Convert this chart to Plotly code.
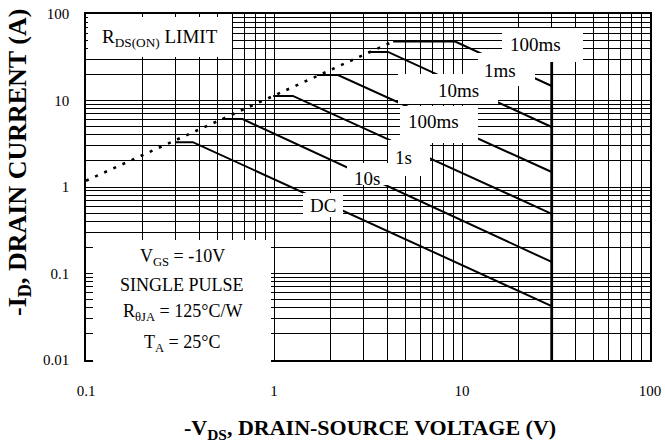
import plotly.graph_objects as go

# ---------------- data ----------------
x_major = [0.1, 1, 10, 100]
x_major_text = ["0.1", "1", "10", "100"]
y_major = [0.01, 0.1, 1, 10, 100]
y_major_text = ["0.01", "0.1", "1", "10", "100"]
x_minor = [0.2, 0.3, 0.4, 0.5, 0.6, 0.7, 0.8, 0.9,
           2, 3, 4, 5, 6, 7, 8, 9,
           20, 30, 40, 50, 60, 70, 80, 90]
y_minor = [0.02, 0.03, 0.04, 0.05, 0.06, 0.07, 0.08, 0.09,
           0.2, 0.3, 0.4, 0.5, 0.6, 0.7, 0.8, 0.9,
           2, 3, 4, 5, 6, 7, 8, 9,
           20, 30, 40, 50, 60, 70, 80, 90]

rds_v = [0.1, 4.3]
rds_i = [1.18, 48]
dc_v = [0.30, 0.37, 30]
dc_i = [3.3, 3.3, 0.042]
s10_v = [0.53, 0.68, 30]
s10_i = [6.1, 6.1, 0.136]
s1_v = [0.99, 1.26, 30]
s1_i = [11.3, 11.3, 0.49]
ms100_v = [1.69, 2.19, 30]
ms100_i = [19.7, 19.7, 1.49]
ms10_v = [3.16, 4.04, 30]
ms10_i = [36.4, 36.4, 4.94]
ms1_v = [4.3, 9.2, 30]
ms1_i = [48, 48, 14.7]
vmax_v = [30, 30]
vmax_i = [0.01, 48]

curve_labels = ["100ms", "1ms", "10ms", "100ms", "1s", "10s", "DC"]
cond_lines = ["V<sub>GS</sub> = -10V", "SINGLE PULSE",
              "R<sub>θJA</sub> = 125°C/W", "T<sub>A</sub> = 25°C"]

# ---------------- layout helpers (pixel -> paper) ----------------
W, H = 665, 443
L, R, T, B = 86, 15, 14, 83
PW, PH = W - L - R, H - T - B


def px(x):
    return (x - L) / PW


def py(y):
    return (H - B - y) / PH


SERIF = "Liberation Serif, Times New Roman, serif"

fig = go.Figure()

line_style = dict(color="black", width=2)
for v, i in [(dc_v, dc_i), (s10_v, s10_i), (s1_v, s1_i), (ms100_v, ms100_i),
             (ms10_v, ms10_i), (ms1_v, ms1_i)]:
    fig.add_trace(go.Scatter(x=v, y=i, mode="lines", line=line_style,
                             showlegend=False, hoverinfo="skip"))
fig.add_trace(go.Scatter(x=vmax_v, y=vmax_i, mode="lines",
                         line=dict(color="black", width=2.8),
                         showlegend=False, hoverinfo="skip"))
fig.add_trace(go.Scatter(x=rds_v, y=rds_i, mode="lines",
                         line=dict(color="black", width=2.6, dash="3px,7px"),
                         showlegend=False, hoverinfo="skip"))

# white label boxes (pixel rectangles)
boxes = [
    (88, 17, 232, 57),     # RDS(ON) LIMIT
    (502, 28, 583, 62),    # 100ms (top)
    (478, 53, 535, 86),    # 1ms
    (398, 74, 498, 104),   # 10ms
    (400, 106, 478, 143),  # 100ms
    (388, 140, 430, 176),  # 1s
    (347, 163, 388, 185),  # 10s
    (303, 193, 343, 217),  # DC
    (93, 240, 271, 363),   # conditions
]
for x0, y0, x1, y1 in boxes:
    fig.add_shape(type="rect", xref="paper", yref="paper",
                  x0=px(x0), x1=px(x1), y0=py(y1), y1=py(y0),
                  fillcolor="white", line=dict(width=0), layer="above")


def note(x, y, txt, size, **kw):
    fig.add_annotation(x=px(x), y=py(y), xref="paper", yref="paper",
                       text=txt, showarrow=False, xanchor="center",
                       yanchor="middle",
                       font=dict(family=SERIF, size=size, color="black"), **kw)


label_pos = [(535, 44), (500, 71), (458, 90), (433, 122), (403, 157),
             (367, 178), (323, 205)]
for txt, (x, y) in zip(curve_labels, label_pos):
    note(x, y, txt, 19)

note(160, 38, "R<sub>DS(ON)</sub> LIMIT", 19)

cond_y = [257, 285, 312, 343]
for txt, y in zip(cond_lines, cond_y):
    note(182, y, txt, 18)

# axis titles
note(370, 429, "<b>-V<sub>DS</sub>, DRAIN-SOURCE VOLTAGE (V)</b>", 22)
note(19, 163, "<b>-I<sub>D</sub>, DRAIN CURRENT (A)</b>", 26, textangle=-90)

axis_common = dict(
    type="log", showline=True, mirror=True, linecolor="black", linewidth=1.5,
    showgrid=True, gridcolor="black", gridwidth=1.3, ticks="",
    zeroline=False, tickfont=dict(family=SERIF, size=15, color="black"),
)
fig.update_xaxes(**axis_common, range=[-1, 2], tickmode="array",
                 tickvals=x_major, ticktext=x_major_text,
                 ticklabelstandoff=16,
                 minor=dict(tickmode="array", tickvals=x_minor, showgrid=True,
                            gridcolor="black", gridwidth=1.3, ticks=""))
fig.update_yaxes(**axis_common, range=[-2, 2], tickmode="array",
                 tickvals=y_major, ticktext=y_major_text,
                 ticklabelstandoff=12,
                 minor=dict(tickmode="array", tickvals=y_minor, showgrid=True,
                            gridcolor="black", gridwidth=1.3, ticks=""))

fig.update_layout(
    width=W, height=H,
    margin=dict(l=L, r=R, t=T, b=B, autoexpand=False),
    paper_bgcolor="white", plot_bgcolor="white",
    showlegend=False,
)

fig.write_html("out.html", config={"displayModeBar": False},
               post_script="document.body.style.margin='0';")
